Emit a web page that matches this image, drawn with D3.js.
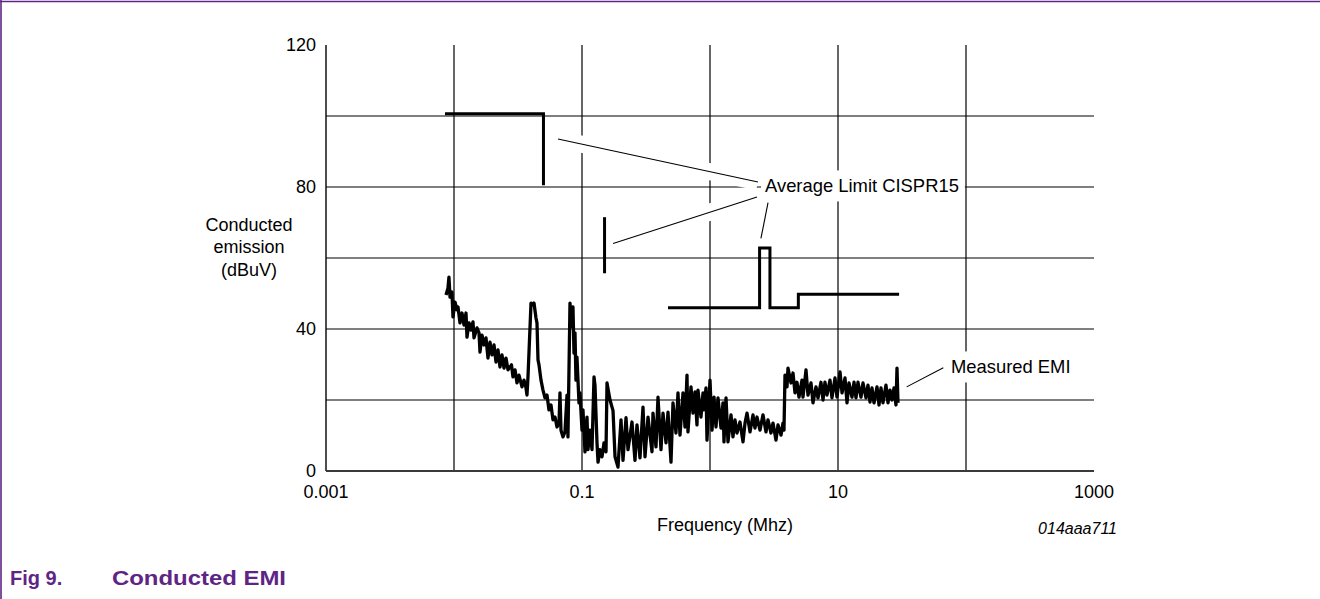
<!DOCTYPE html>
<html>
<head>
<meta charset="utf-8">
<script src="https://cdn.jsdelivr.net/npm/d3@7"></script>
<style>
  html, body { margin: 0; padding: 0; background: #fff; }
  svg { display: block; font-family: "Liberation Sans", Arial, Helvetica, sans-serif; }
</style>
</head>
<body>
<svg id="chart" width="1320" height="599"></svg>
<script>
// axis ticks and grid (frequency in MHz, level in dBuV)
const xTickValues = [0.001, 0.1, 10, 1000];
const xGridValues = [0.01, 0.1, 1, 10, 100];
const yTickValues = [0, 40, 80, 120];
const yGridValues = [20, 40, 60, 80, 100];

// CISPR15 average limit, drawn as separate pieces
const limitSegments = [
  [[0.0085, 100.6], [0.05, 100.6], [0.05, 80.5]],
  [[0.15, 55.7], [0.15, 71.5]],
  [[0.47, 46], [2.44, 46], [2.44, 62.8], [2.94, 62.8], [2.94, 46], [4.9, 46], [4.9, 49.8], [30, 49.8]]
];

// measured conducted emission trace [MHz, dBuV]
const emiTrace = [
  [0.00866, 49.6], [0.00897, 51.5], [0.00913, 54.6], [0.00931, 49.0], [0.00964, 50.4], [0.00982, 43.4],
  [0.01018, 47.6], [0.01055, 45.4], [0.01075, 46.2], [0.01114, 41.7], [0.01155, 44.5], [0.01197, 41.1],
  [0.01241, 44.5], [0.01263, 37.7], [0.01310, 41.7], [0.01358, 39.7], [0.01407, 42.0], [0.01433, 37.5],
  [0.01512, 40.3], [0.01568, 38.9], [0.01596, 33.5], [0.01655, 38.3], [0.01715, 35.5], [0.01778, 37.5],
  [0.01843, 31.8], [0.01911, 36.3], [0.01981, 32.7], [0.02054, 35.5], [0.02129, 30.7], [0.02207, 34.1],
  [0.02287, 29.3], [0.02371, 32.7], [0.02458, 29.0], [0.02548, 31.8], [0.02641, 28.5], [0.02812, 29.9],
  [0.02890, 26.5], [0.02996, 28.5], [0.03106, 24.8], [0.03219, 27.0], [0.03398, 23.7], [0.03522, 25.6],
  [0.03652, 23.4], [0.03718, 21.4], [0.03785, 26.5], [0.03996, 47.3], [0.04141, 46.8], [0.04217, 47.3],
  [0.04371, 43.1], [0.04450, 41.7], [0.04532, 31.3], [0.04614, 29.9], [0.04782, 25.6], [0.04958, 22.8],
  [0.05139, 20.6], [0.05327, 21.4], [0.05521, 17.2], [0.05725, 18.6], [0.05934, 14.4], [0.06152, 15.2],
  [0.06376, 12.4], [0.06611, 13.5], [0.06729, 22.0], [0.06852, 11.5], [0.07105, 9.6], [0.07362, 11.0],
  [0.07635, 21.4], [0.07770, 9.6], [0.08058, 47.3], [0.08204, 40.6], [0.08500, 46.2], [0.08660, 33.2],
  [0.08817, 38.9], [0.08971, 25.6], [0.09133, 32.1], [0.09474, 19.2], [0.09642, 22.0], [0.1000, 11.5],
  [0.1018, 17.2], [0.1055, 5.4], [0.1094, 15.2], [0.1114, 6.0], [0.1155, 11.5], [0.1197, 6.0],
  [0.1241, 26.5], [0.1263, 24.2], [0.1310, 7.9], [0.1334, 2.5], [0.1382, 6.0], [0.1433, 4.0],
  [0.1485, 7.9], [0.1540, 5.4], [0.1568, 24.8], [0.1655, 20.0], [0.1747, 17.0], [0.1811, 4.0],
  [0.1911, 1.1], [0.2017, 14.4], [0.2091, 3.0], [0.2207, 15.0], [0.2287, 6.0], [0.2458, 13.8],
  [0.2594, 3.0], [0.2689, 13.0], [0.2838, 3.7], [0.2996, 18.0], [0.3106, 4.0], [0.3278, 15.2],
  [0.3522, 5.4], [0.3586, 16.3], [0.3785, 6.8], [0.3924, 20.8], [0.4141, 6.0], [0.4294, 16.3],
  [0.4532, 7.9], [0.4697, 16.6], [0.4958, 2.5], [0.5139, 19.2], [0.5423, 10.7], [0.5623, 22.0],
  [0.5828, 10.1], [0.6153, 22.0], [0.6376, 12.4], [0.6611, 27.0], [0.6729, 11.0], [0.7105, 23.7],
  [0.7362, 16.3], [0.7635, 22.3], [0.7911, 13.0], [0.8058, 22.8], [0.8500, 15.2], [0.8817, 22.0],
  [0.8971, 17.2], [0.9306, 23.4], [0.9474, 8.7], [1.000, 25.6], [1.037, 11.5], [1.075, 20.8],
  [1.114, 12.4], [1.155, 20.6], [1.219, 12.1], [1.263, 19.2], [1.286, 8.2], [1.334, 20.6],
  [1.382, 8.2], [1.459, 15.8], [1.512, 9.6], [1.568, 14.4], [1.625, 10.7], [1.715, 13.8],
  [1.811, 8.2], [1.877, 13.5], [1.946, 16.3], [2.054, 11.0], [2.167, 15.8], [2.246, 12.1],
  [2.329, 15.2], [2.458, 11.5], [2.594, 15.8], [2.738, 11.0], [2.838, 14.4], [2.996, 10.7],
  [3.106, 13.5], [3.278, 8.7], [3.398, 13.0], [3.586, 10.1], [3.718, 13.5], [3.785, 11.5],
  [3.854, 27.0], [3.996, 23.7], [4.067, 29.0], [4.294, 24.8], [4.450, 27.6], [4.614, 22.0],
  [4.782, 25.0], [4.958, 20.8], [5.233, 25.6], [5.327, 20.8], [5.623, 28.5], [5.828, 21.4],
  [6.153, 24.8], [6.376, 19.2], [6.729, 23.7], [6.978, 20.6], [7.362, 25.0], [7.635, 20.0],
  [7.911, 25.0], [8.204, 21.4], [8.660, 25.6], [8.971, 20.6], [9.474, 26.2], [9.818, 20.8],
  [10.37, 27.9], [10.75, 22.0], [11.34, 26.2], [11.76, 19.2], [12.19, 24.8], [12.86, 20.8],
  [13.34, 25.0], [13.82, 20.6], [14.33, 25.0], [15.12, 20.8], [15.68, 24.8], [16.55, 20.6],
  [17.15, 24.2], [17.78, 19.4], [18.43, 23.4], [19.11, 19.2], [20.17, 23.7], [20.91, 18.6],
  [21.67, 23.4], [22.46, 19.2], [23.71, 24.2], [24.58, 19.2], [25.48, 22.8], [26.41, 20.0],
  [27.38, 23.4], [28.38, 18.6], [28.90, 29.0], [29.43, 19.2]
];

// callout labels with their leader lines, in data units
const calloutLabels = ['Average Limit CISPR15', 'Measured EMI'];
const calloutAnchors = [[2.69, 80.3], [76.3, 29.3]];
const calloutLeaders = [
  [[[0.0649, 93.5], [2.37, 81.4]], [[0.175, 64.1], [2.33, 77.2]], [[2.50, 65.5], [2.84, 75.6]]],
  [[[34.4, 23.7], [66.5, 29.1]]]
];

const yTitleLines = ['Conducted', 'emission', '(dBuV)'];
const xTitle = 'Frequency (Mhz)';
const figCode = '014aaa711';
const captionNum = 'Fig 9.';
const captionText = 'Conducted EMI';

const purple = '#5f2585';
const fontSize = 18;

const svg = d3.select('#chart');

// page frame (top and left rules)
svg.append('line').attr('x1', 0).attr('x2', 1320).attr('y1', 1.5).attr('y2', 1.5)
  .attr('stroke', purple).attr('stroke-width', 1.6);
svg.append('line').attr('x1', 1).attr('x2', 1).attr('y1', 0).attr('y2', 599)
  .attr('stroke', purple).attr('stroke-width', 1.6);

const x = d3.scaleLog().domain([0.001, 1000]).range([326, 1094]);
const y = d3.scaleLinear().domain([0, 120]).range([471, 45]);

// grid
const grid = svg.append('g');
grid.selectAll('line.v')
  .data(xGridValues)
  .join('line')
  .attr('class', 'v')
  .attr('x1', d => x(d)).attr('x2', d => x(d))
  .attr('y1', y(0)).attr('y2', y(120))
  .attr('stroke', '#000').attr('stroke-width', 1.2);
grid.selectAll('line.h')
  .data(yGridValues)
  .join('line')
  .attr('class', 'h')
  .attr('x1', x(0.001)).attr('x2', x(1000))
  .attr('y1', d => y(d)).attr('y2', d => y(d))
  .attr('stroke', '#000').attr('stroke-width', 1.2);

// axes lines
svg.append('line')
  .attr('x1', x(0.001)).attr('x2', x(0.001))
  .attr('y1', y(0)).attr('y2', y(120))
  .attr('stroke', '#000').attr('stroke-width', 1.4);
svg.append('line')
  .attr('x1', x(0.001)).attr('x2', x(1000))
  .attr('y1', y(0)).attr('y2', y(0))
  .attr('stroke', '#3a3a3a').attr('stroke-width', 2.2);

// tick labels (no tick marks)
svg.append('g').selectAll('text')
  .data(yTickValues)
  .join('text')
  .attr('x', x(0.001) - 10)
  .attr('y', d => y(d) + fontSize * 0.36)
  .attr('text-anchor', 'end')
  .attr('font-size', fontSize)
  .text(d => d3.format('d')(d));

svg.append('g').selectAll('text')
  .data(xTickValues)
  .join('text')
  .attr('x', d => x(d))
  .attr('y', y(0) + 27)
  .attr('text-anchor', 'middle')
  .attr('font-size', fontSize)
  .text(d => d >= 1 ? d3.format('d')(d) : String(d));

// axis titles
svg.append('text')
  .attr('x', 249)
  .attr('text-anchor', 'middle')
  .attr('font-size', fontSize)
  .selectAll('tspan')
  .data(yTitleLines)
  .join('tspan')
  .attr('x', 249)
  .attr('y', (d, i) => 230.5 + i * 22.5)
  .text(d => d);

svg.append('text')
  .attr('x', 725)
  .attr('y', 531)
  .attr('text-anchor', 'middle')
  .attr('font-size', fontSize)
  .text(xTitle);

svg.append('text')
  .attr('x', 1117)
  .attr('y', 534)
  .attr('text-anchor', 'end')
  .attr('font-size', 16)
  .attr('font-style', 'italic')
  .text(figCode);

// callouts: white halo under leaders, white box under text
const line = d3.line().x(d => x(d[0])).y(d => y(d[1]));
const callouts = svg.append('g');
calloutLabels.forEach((label, i) => {
  const g = callouts.append('g');
  g.selectAll('path.halo')
    .data(calloutLeaders[i])
    .join('path')
    .attr('class', 'halo')
    .attr('d', line)
    .attr('stroke', '#fff').attr('stroke-width', 17).attr('fill', 'none');
  const txt = g.append('text')
    .attr('x', x(calloutAnchors[i][0]))
    .attr('y', y(calloutAnchors[i][1]) + fontSize * 0.36)
    .attr('font-size', 18.4)
    .text(label);
  const bb = txt.node().getBBox();
  g.insert('rect', 'text')
    .attr('x', bb.x - 4).attr('y', bb.y - 5)
    .attr('width', bb.width + 10).attr('height', bb.height + 10)
    .attr('fill', '#fff');
  g.selectAll('path.leader')
    .data(calloutLeaders[i])
    .join('path')
    .attr('class', 'leader')
    .attr('d', line)
    .attr('stroke', '#000').attr('stroke-width', 1.1).attr('fill', 'none');
});

// limit lines
svg.append('g').selectAll('path')
  .data(limitSegments)
  .join('path')
  .attr('d', line)
  .attr('fill', 'none')
  .attr('stroke', '#000')
  .attr('stroke-width', 3)
  .attr('stroke-linejoin', 'miter');

// measured trace
svg.append('path')
  .datum(emiTrace)
  .attr('d', line)
  .attr('fill', 'none')
  .attr('stroke', '#000')
  .attr('stroke-width', 3.3)
  .attr('stroke-linejoin', 'round');

// figure caption
const cap = svg.append('text')
  .attr('y', 585)
  .attr('font-size', 20)
  .attr('font-weight', 'bold')
  .attr('fill', purple);
cap.append('tspan').attr('x', 10).text(captionNum);
cap.append('tspan').attr('x', 112)
  .attr('textLength', 174)
  .attr('lengthAdjust', 'spacingAndGlyphs')
  .text(captionText);
</script>
</body>
</html>
